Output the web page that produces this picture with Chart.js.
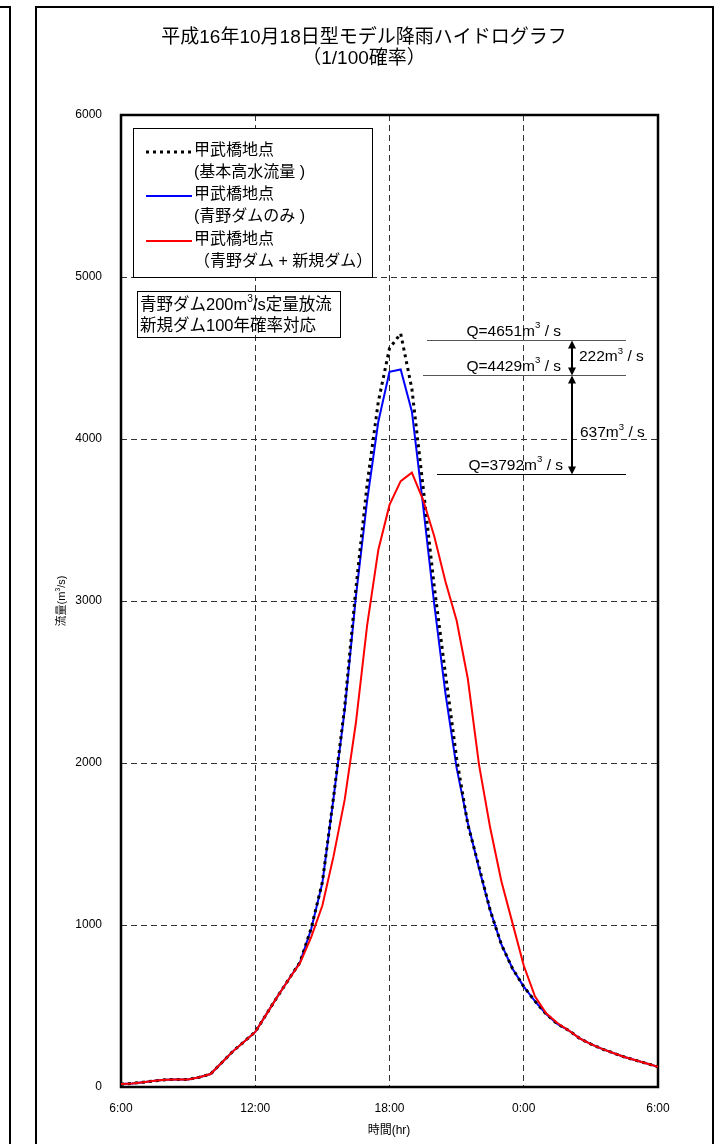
<!DOCTYPE html>
<html>
<head>
<meta charset="utf-8">
<script src="https://cdn.jsdelivr.net/npm/chart.js@4.4.1/dist/chart.umd.min.js"></script>
<style>
    html, body { margin: 0; padding: 0; background: #fff; }
    #ChartHydro { display: block; }
</style>
</head>
<body>
<canvas id="ChartHydro" width="719" height="1144"></canvas>
<script>

// 時刻 (6:00 からの経過時間 hr)
const Tiempos = [0, 0.5, 1, 1.5, 2, 2.5, 3, 3.5, 4, 4.5, 5, 5.5, 6, 6.5, 7, 7.5, 8, 8.5, 9, 9.5,
    10, 10.5, 11, 11.5, 12, 12.5, 13, 13.5, 14, 14.5, 15, 15.5, 16, 16.5, 17, 17.5, 18, 18.5, 19, 19.5,
    20, 20.5, 21, 21.5, 22, 22.5, 23, 23.5, 24];

// 甲武橋地点 (基本高水流量)
const KihonKousui = [18, 22, 30, 38, 45, 47, 47, 60, 80, 150, 220, 280, 340, 450, 560, 665, 770, 980, 1265, 1790,
    2350, 3080, 3720, 4230, 4560, 4651, 4310, 3706, 3090, 2550, 2030, 1620, 1360, 1090, 880, 730, 620, 530, 450, 390,
    350, 300, 265, 235, 210, 185, 165, 145, 125];

// 甲武橋地点 (青野ダムのみ)
const AonoNomi = [18, 22, 30, 38, 45, 47, 47, 60, 80, 150, 220, 280, 340, 450, 560, 665, 770, 975, 1260, 1785,
    2330, 3030, 3620, 4107, 4415, 4429, 4170, 3590, 2980, 2430, 1970, 1630, 1350, 1090, 880, 730, 620, 530, 450, 390,
    350, 300, 265, 235, 210, 185, 165, 145, 125];

// 甲武橋地点 (青野ダム + 新規ダム)
const AonoShinki = [18, 22, 30, 38, 45, 47, 47, 60, 80, 150, 220, 280, 340, 450, 560, 665, 765, 925, 1120, 1425,
    1775, 2250, 2850, 3315, 3593, 3740, 3792, 3625, 3400, 3120, 2880, 2520, 1990, 1600, 1270, 1010, 750, 560, 455, 395,
    350, 300, 265, 235, 210, 185, 165, 145, 125];

const EtiquetasX = ['6:00', '12:00', '18:00', '0:00', '6:00'];

// ピーク注記 (線の高さ, 文字)
const PicoNivel = [4611, 4395, 3784];
const PicoTexto = ['Q=4651', 'Q=4429', 'Q=3792'];
const DifTexto = ['222', '637'];

const FUENTE = '"Liberation Sans", "Noto Sans CJK JP", sans-serif';

const toPoints = (xs, ys) => xs.map((x, i) => ({ x: x, y: ys[i] }));

// 上付き文字つきテキスト
const richText = (ctx, parts, x, y, size, align) => {
    let w = 0;
    parts.forEach(p => {
        ctx.font = (p[1] ? size * 0.62 : size) + 'px ' + FUENTE;
        w += ctx.measureText(p[0]).width;
    });
    let cx = align === 'center' ? x - w / 2 : (align === 'right' ? x - w : x);
    ctx.textAlign = 'left';
    ctx.textBaseline = 'middle';
    parts.forEach(p => {
        ctx.font = (p[1] ? size * 0.62 : size) + 'px ' + FUENTE;
        ctx.fillText(p[0], cx, p[1] ? y - size * 0.38 : y);
        cx += ctx.measureText(p[0]).width;
    });
};

const flecha = (ctx, x, y1, y2) => {
    ctx.save();
    ctx.strokeStyle = '#000';
    ctx.fillStyle = '#000';
    ctx.lineWidth = 2;
    ctx.beginPath();
    ctx.moveTo(x, y1 + 4);
    ctx.lineTo(x, y2 - 4);
    ctx.stroke();
    [[y1, 1], [y2, -1]].forEach(a => {
        ctx.beginPath();
        ctx.moveTo(x, a[0]);
        ctx.lineTo(x - 4, a[0] + 8 * a[1]);
        ctx.lineTo(x + 4, a[0] + 8 * a[1]);
        ctx.closePath();
        ctx.fill();
    });
    ctx.restore();
};

const dibujoPlugin = {
    id: 'dibujo',
    beforeDraw: (chart) => {
        const ctx = chart.ctx;
        ctx.save();
        ctx.fillStyle = '#fff';
        ctx.fillRect(0, 0, chart.width, chart.height);
        ctx.strokeStyle = '#000';
        ctx.lineWidth = 2;
        // 外枠
        ctx.strokeRect(36, 7, 677, 1150);
        // 左隣の図の枠
        ctx.beginPath();
        ctx.moveTo(0, 7);
        ctx.lineTo(10, 7);
        ctx.lineTo(10, 1144);
        ctx.stroke();
        ctx.restore();
    },
    beforeDatasetsDraw: (chart) => {
        const ctx = chart.ctx;
        const a = chart.chartArea;
        ctx.save();
        ctx.strokeStyle = '#000';
        ctx.lineWidth = 2.5;
        ctx.strokeRect(a.left, a.top, a.right - a.left, a.bottom - a.top);
        ctx.restore();
    },
    afterDraw: (chart) => {
        const ctx = chart.ctx;
        const ys = chart.scales.y;
        ctx.save();
        ctx.fillStyle = '#000';

        // タイトル
        ctx.font = '19px ' + FUENTE;
        ctx.textAlign = 'center';
        ctx.textBaseline = 'middle';
        ctx.fillText('平成16年10月18日型モデル降雨ハイドログラフ', 364, 38);
        ctx.fillText('（1/100確率）', 364, 59);

        // 軸タイトル
        ctx.font = '12px ' + FUENTE;
        ctx.fillText('時間(hr)', 389, 1131);
        ctx.save();
        ctx.translate(62, 601);
        ctx.rotate(-Math.PI / 2);
        richText(ctx, [['流量(m', false], ['3', true], ['/s)', false]], 0, 0, 11, 'center');
        ctx.restore();

        // 凡例
        ctx.fillStyle = '#fff';
        ctx.fillRect(133, 128, 239, 149);
        ctx.strokeStyle = '#000';
        ctx.lineWidth = 1;
        ctx.strokeRect(133.5, 128.5, 239, 149);
        const filas = [
            { y: 152, color: '#000', dash: [3, 4], w: 3, l1: '甲武橋地点', l2: '(基本高水流量 )' },
            { y: 196, color: '#0000ff', dash: [], w: 2, l1: '甲武橋地点', l2: '(青野ダムのみ )' },
            { y: 241, color: '#ff0000', dash: [], w: 2, l1: '甲武橋地点', l2: '（青野ダム + 新規ダム）' }
        ];
        filas.forEach(f => {
            ctx.save();
            ctx.strokeStyle = f.color;
            ctx.lineWidth = f.w;
            ctx.setLineDash(f.dash);
            ctx.beginPath();
            ctx.moveTo(146, f.y);
            ctx.lineTo(192, f.y);
            ctx.stroke();
            ctx.restore();
            ctx.fillStyle = '#000';
            ctx.font = '16px ' + FUENTE;
            ctx.textAlign = 'left';
            ctx.textBaseline = 'middle';
            ctx.fillText(f.l1, 194, f.y - 1);
            ctx.fillText(f.l2, 194, f.y + 21);
        });

        // 条件の注記
        ctx.strokeStyle = '#000';
        ctx.lineWidth = 1;
        ctx.strokeRect(137.5, 291.5, 203, 46);
        ctx.fillStyle = '#000';
        richText(ctx, [['青野ダム200m', false], ['3', true], ['/s定量放流', false]], 140, 305, 16.5, 'left');
        ctx.font = '16.5px ' + FUENTE;
        ctx.textAlign = 'left';
        ctx.fillText('新規ダム100年確率対応', 140, 326);

        // ピーク流量の注記
        const py = PicoNivel.map(v => Math.round(ys.getPixelForValue(v)) + 0.5);
        const xIni = [427, 423, 437];
        ctx.lineWidth = 1.2;
        py.forEach((y, i) => {
            ctx.strokeStyle = i < 2 ? '#555' : '#000';
            ctx.beginPath();
            ctx.moveTo(xIni[i], y);
            ctx.lineTo(626, y);
            ctx.stroke();
            richText(ctx, [[PicoTexto[i] + 'm', false], ['3', true], [' / s', false]],
                i < 2 ? 561 : 563, y - 9, 15.5, 'right');
        });
        flecha(ctx, 572, py[0], py[1]);
        flecha(ctx, 572, py[1], py[2]);
        richText(ctx, [[DifTexto[0] + 'm', false], ['3', true], [' / s', false]], 579, (py[0] + py[1]) / 2 - 1, 15.5, 'left');
        richText(ctx, [[DifTexto[1] + 'm', false], ['3', true], [' / s', false]], 580, 433, 15.5, 'left');

        ctx.restore();
    }
};

var ctxHydro = document.getElementById('ChartHydro');
var ChartHydro = new Chart(ctxHydro, {
    type: 'line',
    data: {
        datasets: [{
            label: '甲武橋地点(青野ダム + 新規ダム)',
            data: toPoints(Tiempos, AonoShinki),
            borderColor: '#ff0000',
            borderWidth: 2,
            order: 1
        }, {
            label: '甲武橋地点(基本高水流量)',
            data: toPoints(Tiempos, KihonKousui),
            borderColor: '#000000',
            borderWidth: 3,
            borderDash: [3, 4],
            order: 2
        }, {
            label: '甲武橋地点(青野ダムのみ)',
            data: toPoints(Tiempos, AonoNomi),
            borderColor: '#0000ff',
            borderWidth: 2,
            order: 3
        }]
    },
    options: {
        responsive: false,
        animation: false,
        devicePixelRatio: 1,
        layout: { padding: { top: 115, right: 61, left: 0, bottom: 0 } },
        elements: {
            point: { radius: 0 },
            line: { tension: 0, fill: false }
        },
        plugins: {
            legend: { display: false },
            title: { display: false },
            tooltip: { enabled: false }
        },
        scales: {
            x: {
                type: 'linear',
                min: 0,
                max: 24,
                afterFit: (s) => { s.height = 57; },
                ticks: {
                    stepSize: 6,
                    padding: 14,
                    color: '#000',
                    font: { family: FUENTE, size: 12 },
                    callback: (v) => EtiquetasX[v / 6]
                },
                grid: { color: '#333', lineWidth: 1, drawTicks: false },
                border: { display: false, dash: [6, 4] }
            },
            y: {
                min: 0,
                max: 6000,
                afterFit: (s) => { s.width = 121; },
                ticks: {
                    stepSize: 1000,
                    padding: 19,
                    color: '#000',
                    font: { family: FUENTE, size: 12 },
                    callback: (v) => String(v)
                },
                grid: { color: '#333', lineWidth: 1, drawTicks: false },
                border: { display: false, dash: [6, 4] }
            }
        }
    },
    plugins: [dibujoPlugin]
});

</script>
</body>
</html>
